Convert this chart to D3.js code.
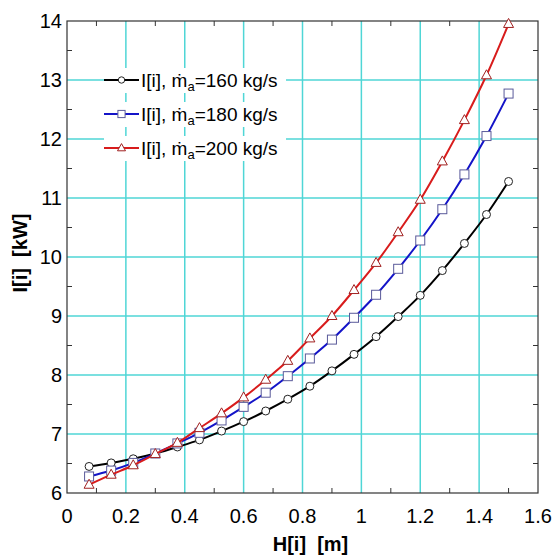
<!DOCTYPE html>
<html>
<head>
<meta charset="utf-8">
<script src="https://cdn.jsdelivr.net/npm/d3@7"></script>
<style>
  body { margin: 0; background: #fff; }
  text { font-family: "Liberation Sans", Arial, sans-serif; }
</style>
</head>
<body>
<div id="chart"></div>
<script>
// Data
const heights = [0.075, 0.15, 0.225, 0.3, 0.375, 0.45, 0.525, 0.6, 0.675, 0.75,
  0.825, 0.9, 0.975, 1.05, 1.125, 1.2, 1.275, 1.35, 1.425, 1.5];
const power160 = [6.45, 6.51, 6.58, 6.67, 6.78, 6.90, 7.05, 7.21, 7.39, 7.59,
  7.81, 8.07, 8.35, 8.65, 8.99, 9.35, 9.77, 10.23, 10.72, 11.28];
const power180 = [6.28, 6.38, 6.51, 6.67, 6.84, 7.02, 7.23, 7.46, 7.70, 7.98,
  8.28, 8.60, 8.97, 9.36, 9.80, 10.28, 10.81, 11.40, 12.05, 12.77];
const power200 = [6.14, 6.31, 6.47, 6.66, 6.85, 7.10, 7.35, 7.62, 7.92, 8.24,
  8.62, 9.00, 9.44, 9.90, 10.42, 10.97, 11.62, 12.32, 13.08, 13.95];
const massFlows = ["160", "180", "200"];
const xTicks = [0, 0.2, 0.4, 0.6, 0.8, 1, 1.2, 1.4, 1.6];
const yTicks = [6, 7, 8, 9, 10, 11, 12, 13, 14];

const width = 552, height = 556;
const margin = { top: 21, right: 14, bottom: 63, left: 67 };

const series = [
  { values: power160, line: "#000000", mark: "#222222", shape: "circle" },
  { values: power180, line: "#1414c8", mark: "#5a5a9a", shape: "square" },
  { values: power200, line: "#d81c1c", mark: "#a02020", shape: "triangle" }
];

const svg = d3.select("#chart").append("svg")
  .attr("width", width)
  .attr("height", height);

const x = d3.scaleLinear().domain([0, 1.6]).range([margin.left, width - margin.right]);
const y = d3.scaleLinear().domain([6, 14]).range([height - margin.bottom, margin.top]);

const x0 = x(0), x1 = x(1.6), y0 = y(6), y1 = y(14);

// Grid
const grid = svg.append("g").attr("stroke", "#4fd6d6").attr("stroke-width", 1.5);
xTicks.slice(1, -1).forEach(t => {
  grid.append("line").attr("x1", x(t)).attr("x2", x(t)).attr("y1", y0).attr("y2", y1);
});
yTicks.slice(1, -1).forEach(t => {
  grid.append("line").attr("x1", x0).attr("x2", x1).attr("y1", y(t)).attr("y2", y(t));
});

// Minor ticks, pointing inward on all four sides
const xMinor = d3.range(0.1, 1.6, 0.2);
const yMinor = d3.range(6.5, 14, 1);
const ticks = svg.append("g").attr("stroke", "#333").attr("stroke-width", 1);
xMinor.forEach(t => {
  ticks.append("line").attr("x1", x(t)).attr("x2", x(t)).attr("y1", y0).attr("y2", y0 - 5);
  ticks.append("line").attr("x1", x(t)).attr("x2", x(t)).attr("y1", y1).attr("y2", y1 + 5);
});
yMinor.forEach(t => {
  ticks.append("line").attr("x1", x0).attr("x2", x0 + 5).attr("y1", y(t)).attr("y2", y(t));
  ticks.append("line").attr("x1", x1).attr("x2", x1 - 5).attr("y1", y(t)).attr("y2", y(t));
});

// Frame
svg.append("rect")
  .attr("x", x0).attr("y", y1)
  .attr("width", x1 - x0).attr("height", y0 - y1)
  .attr("fill", "none").attr("stroke", "#333").attr("stroke-width", 1.2);

// Axes labels
svg.append("g").selectAll("text").data(xTicks).join("text")
  .attr("x", d => x(d)).attr("y", y0 + 30)
  .attr("text-anchor", "middle")
  .attr("font-size", 20)
  .text(d => d);

svg.append("g").selectAll("text").data(yTicks).join("text")
  .attr("x", x0 - 5).attr("y", d => y(d) + 7)
  .attr("text-anchor", "end")
  .attr("font-size", 20)
  .text(d => d);

svg.append("text")
  .attr("x", (x0 + x1) / 2 + 8).attr("y", 551)
  .attr("text-anchor", "middle")
  .attr("font-size", 20).attr("font-weight", "bold")
  .attr("xml:space", "preserve")
  .text("H[i]  [m]");

svg.append("text")
  .attr("transform", `translate(27,${(y0 + y1) / 2 - 4}) rotate(-90)`)
  .attr("text-anchor", "middle")
  .attr("font-size", 20).attr("font-weight", "bold")
  .attr("xml:space", "preserve")
  .text("I[i]  [kW]");

// Curves
const line = d3.line()
  .x((d, i) => x(heights[i]))
  .y(d => y(d))
  .curve(d3.curveMonotoneX);

function drawMarker(g, shape, cx, cy, stroke, k = 1) {
  if (shape === "circle") {
    g.append("circle").attr("cx", cx).attr("cy", cy).attr("r", 4 * k)
      .attr("fill", "#fff").attr("stroke", stroke).attr("stroke-width", 1);
  } else if (shape === "square") {
    const h = 4.5 * k;
    g.append("rect").attr("x", cx - h).attr("y", cy - h).attr("width", 2 * h).attr("height", 2 * h)
      .attr("fill", "#fff").attr("stroke", stroke).attr("stroke-width", 1);
  } else {
    g.append("path")
      .attr("d", `M${cx},${cy - 5.5 * k}L${cx + 5 * k},${cy + 3.5 * k}L${cx - 5 * k},${cy + 3.5 * k}Z`)
      .attr("fill", "#fff").attr("stroke", stroke).attr("stroke-width", 1);
  }
}

series.forEach(s => {
  svg.append("path")
    .attr("d", line(s.values))
    .attr("fill", "none")
    .attr("stroke", s.line)
    .attr("stroke-width", 2);
  const g = svg.append("g");
  s.values.forEach((v, i) => drawMarker(g, s.shape, x(heights[i]), y(v), s.mark));
});

// Legend
const legendRows = [80, 114, 148];
series.forEach((s, i) => {
  const ly = legendRows[i];
  svg.append("rect")
    .attr("x", 104).attr("y", ly - 12).attr("width", 182).attr("height", 25)
    .attr("fill", "#fff");
  svg.append("line")
    .attr("x1", 104).attr("x2", 139).attr("y1", ly).attr("y2", ly)
    .attr("stroke", s.line).attr("stroke-width", 2);
  drawMarker(svg, s.shape, 121.5, ly, s.mark, 0.8);
  const t = svg.append("text")
    .attr("x", 141).attr("y", ly + 7)
    .attr("font-size", 19);
  t.append("tspan").text("I[i], ṁ");
  t.append("tspan").attr("font-size", 13).attr("dy", 4).text("a");
  t.append("tspan").attr("dy", -4).text(`=${massFlows[i]} kg/s`);
});
</script>
</body>
</html>
